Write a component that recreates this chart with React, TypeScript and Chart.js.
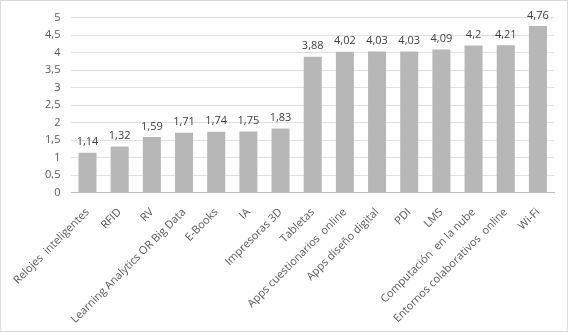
import React, { useEffect, useRef } from "react";
import { Chart, registerables } from "chart.js";

Chart.register(...registerables);

const categories: string[] = [
  "Relojes  inteligentes",
  "RFID",
  "RV",
  "Learning Analytics OR Big Data",
  "E-Books",
  "IA",
  "Impresoras 3D",
  "Tabletas",
  "Apps cuestionarios  online",
  "Apps diseño digital",
  "PDI",
  "LMS",
  "Computación  en la nube",
  "Entornos colaborativos  online",
  "Wi-Fi",
];

const values: number[] = [1.14, 1.32, 1.59, 1.71, 1.74, 1.75, 1.83, 3.88, 4.02, 4.03, 4.03, 4.09, 4.2, 4.21, 4.76];

const yTicks: number[] = [0, 0.5, 1, 1.5, 2, 2.5, 3, 3.5, 4, 4.5, 5];

const FONT = "Open Sans";

const fmt = (v: number) => String(v).replace(".", ",");

const dataLabels = {
  id: "dataLabels",
  afterDatasetsDraw(chart: any) {
    const { ctx } = chart;
    const meta = chart.getDatasetMeta(0);
    ctx.save();
    ctx.font = `11px "${FONT}"`;
    ctx.fillStyle = "#404040";
    ctx.textAlign = "center";
    ctx.textBaseline = "bottom";
    meta.data.forEach((bar: any, i: number) => {
      ctx.fillText(fmt(values[i]), bar.x, bar.y - 5);
    });
    ctx.restore();
  },
};

export default function App() {
  const ref = useRef<HTMLCanvasElement>(null);
  useEffect(() => {
    document.body.style.margin = "0";
    const chart = new Chart(ref.current!, {
      type: "bar",
      data: {
        labels: categories,
        datasets: [
          {
            data: values,
            backgroundColor: "#b7b7b7",
            barPercentage: 0.56,
            categoryPercentage: 1,
          },
        ],
      },
      options: {
        animation: false,
        responsive: false,
        devicePixelRatio: 1,
        layout: { padding: { left: 33, right: 13, top: 14, bottom: 0 } },
        plugins: { legend: { display: false }, tooltip: { enabled: false } },
        scales: {
          x: {
            grid: { display: false },
            border: { color: "#bfbfbf", width: 1 },
            ticks: {
              minRotation: 45,
              maxRotation: 45,
              autoSkip: false,
              color: "#595959",
              font: { family: FONT, size: 11 },
              padding: 5,
            },
          },
          y: {
            min: 0,
            max: 5,
            afterBuildTicks: (axis: any) => {
              axis.ticks = yTicks.map((v) => ({ value: v }));
            },
            grid: { color: "#e0e0e0", drawTicks: false },
            border: { display: false },
            ticks: {
              color: "#595959",
              font: { family: FONT, size: 11, lineHeight: 1 },
              padding: 11,
              callback: (v: any) => fmt(Number(v)),
            },
          },
        },
      },
      plugins: [dataLabels],
    });
    return () => chart.destroy();
  }, []);
  return (
    <div style={{ width: 566, height: 330, border: "1px solid #d9d9d9", background: "#fff" }}>
      <canvas ref={ref} width={566} height={330} style={{ display: "block" }} />
    </div>
  );
}
